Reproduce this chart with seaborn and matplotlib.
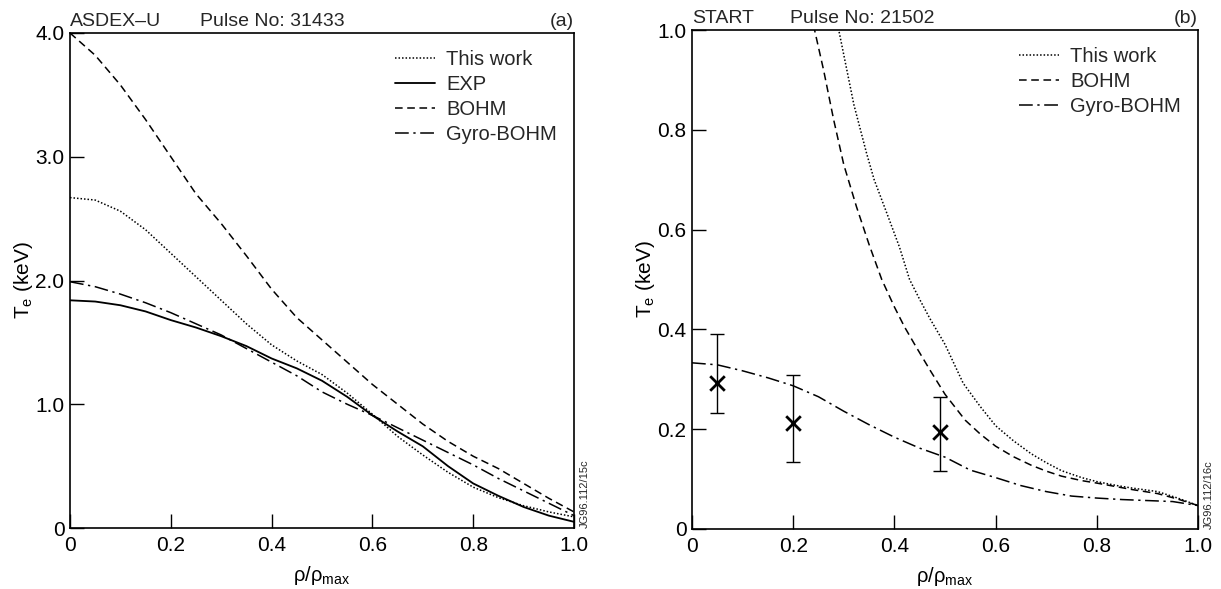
import matplotlib
matplotlib.use("Agg")
import matplotlib.pyplot as plt
import seaborn as sns
import numpy as np

# ---------------- Panel (a): ASDEX-U, pulse 31433 ----------------
rho_a = [0.0, 0.05, 0.10, 0.15, 0.20, 0.25, 0.30, 0.35, 0.40, 0.45, 0.50,
         0.55, 0.60, 0.65, 0.70, 0.75, 0.80, 0.85, 0.90, 0.95, 1.00]
te_a_this = [2.67, 2.65, 2.56, 2.41, 2.22, 2.03, 1.84, 1.65, 1.48, 1.35, 1.24,
             1.09, 0.92, 0.74, 0.59, 0.45, 0.33, 0.245, 0.18, 0.13, 0.09]
te_a_exp = [1.84, 1.83, 1.80, 1.75, 1.68, 1.62, 1.55, 1.47, 1.37, 1.29, 1.19,
            1.06, 0.91, 0.78, 0.66, 0.50, 0.36, 0.26, 0.17, 0.10, 0.05]
te_a_bohm = [4.00, 3.82, 3.58, 3.30, 3.00, 2.70, 2.46, 2.20, 1.93, 1.70, 1.52,
             1.34, 1.16, 1.00, 0.84, 0.70, 0.58, 0.48, 0.36, 0.24, 0.13]
te_a_gyro = [1.99, 1.95, 1.89, 1.82, 1.74, 1.65, 1.56, 1.45, 1.34, 1.23, 1.10,
             1.00, 0.91, 0.81, 0.71, 0.61, 0.51, 0.40, 0.30, 0.20, 0.10]

# ---------------- Panel (b): START, pulse 21502 ----------------
rho_b_this = [0.288, 0.30, 0.32, 0.345, 0.36, 0.385, 0.41, 0.43, 0.45, 0.47, 0.50,
              0.536, 0.57, 0.60, 0.635, 0.67, 0.70, 0.73, 0.77, 0.80, 0.84, 0.87,
              0.92, 0.96, 1.00]
te_b_this = [1.01, 0.95, 0.85, 0.753, 0.70, 0.633, 0.565, 0.50, 0.46, 0.422, 0.37,
             0.292, 0.245, 0.207, 0.177, 0.151, 0.133, 0.117, 0.103, 0.095, 0.087,
             0.082, 0.075, 0.062, 0.047]
rho_b_bohm = [0.24, 0.26, 0.28, 0.30, 0.325, 0.35, 0.375, 0.40, 0.42, 0.44, 0.47,
              0.50, 0.54, 0.57, 0.60, 0.635, 0.67, 0.70, 0.73, 0.77, 0.80, 0.87,
              0.92, 0.96, 1.00]
te_b_bohm = [1.01, 0.92, 0.82, 0.73, 0.646, 0.57, 0.50, 0.445, 0.405, 0.37, 0.319,
             0.27, 0.218, 0.19, 0.166, 0.145, 0.128, 0.116, 0.106, 0.097, 0.092,
             0.079, 0.071, 0.060, 0.047]
rho_b_gyro = [0.0, 0.05, 0.10, 0.15, 0.20, 0.25, 0.30, 0.35, 0.40, 0.45, 0.50,
              0.55, 0.60, 0.65, 0.70, 0.75, 0.80, 0.85, 0.90, 0.95, 1.00]
te_b_gyro = [0.333, 0.329, 0.317, 0.303, 0.287, 0.265, 0.236, 0.209, 0.184, 0.162,
             0.144, 0.118, 0.103, 0.087, 0.075, 0.066, 0.062, 0.059, 0.057, 0.055, 0.047]
# experimental points with error bars
rho_b_exp = [0.05, 0.20, 0.49]
te_b_exp = [0.292, 0.212, 0.195]
te_b_exp_low = [0.233, 0.135, 0.117]
te_b_exp_high = [0.391, 0.309, 0.265]

ticks_a_y = [0, 1.0, 2.0, 3.0, 4.0]
ticks_a_y_lbl = ["0", "1.0", "2.0", "3.0", "4.0"]
ticks_b_y = [0, 0.2, 0.4, 0.6, 0.8, 1.0]
ticks_b_y_lbl = ["0", "0.2", "0.4", "0.6", "0.8", "1.0"]
ticks_x = [0, 0.2, 0.4, 0.6, 0.8, 1.0]
ticks_x_lbl = ["0", "0.2", "0.4", "0.6", "0.8", "1.0"]

sns.set_theme(style="ticks")
plt.rcParams["font.family"] = ["Liberation Sans", "DejaVu Sans"]
plt.rcParams["mathtext.fontset"] = "custom"
plt.rcParams["mathtext.rm"] = "Liberation Sans"
plt.rcParams["mathtext.it"] = "Liberation Sans:italic"
plt.rcParams["mathtext.bf"] = "Liberation Sans:bold"

fig = plt.figure(figsize=(12.21, 5.89), dpi=100)
ax_a = fig.add_axes([70 / 1221, 61 / 589, 504 / 1221, 495 / 589])
ax_b = fig.add_axes([692 / 1221, 60 / 589, 506 / 1221, 499 / 589])

lw = 1.1
dotted = (0, (1, 1.3))
dashed = (0, (5, 3))
dashdot = (0, (9, 3, 1.5, 3))

# Panel a
sns.lineplot(x=rho_a, y=te_a_this, ax=ax_a, color="black", lw=lw, linestyle=dotted,
             label="This work", sort=False)
sns.lineplot(x=rho_a, y=te_a_exp, ax=ax_a, color="black", lw=lw * 1.2, linestyle="-",
             label="EXP", sort=False)
sns.lineplot(x=rho_a, y=te_a_bohm, ax=ax_a, color="black", lw=lw, linestyle=dashed,
             label="BOHM", sort=False)
sns.lineplot(x=rho_a, y=te_a_gyro, ax=ax_a, color="black", lw=lw, linestyle=dashdot,
             label="Gyro-BOHM", sort=False)

# Panel b
sns.lineplot(x=rho_b_this, y=te_b_this, ax=ax_b, color="black", lw=lw, linestyle=dotted,
             label="This work", sort=False)
sns.lineplot(x=rho_b_bohm, y=te_b_bohm, ax=ax_b, color="black", lw=lw, linestyle=dashed,
             label="BOHM", sort=False)
sns.lineplot(x=rho_b_gyro, y=te_b_gyro, ax=ax_b, color="black", lw=lw, linestyle=dashdot,
             label="Gyro-BOHM", sort=False)
yerr = [np.array(te_b_exp) - np.array(te_b_exp_low),
        np.array(te_b_exp_high) - np.array(te_b_exp)]
ax_b.errorbar(rho_b_exp, te_b_exp, yerr=yerr, fmt="none", ecolor="black",
              elinewidth=1.0, capsize=5, capthick=1.0)
sns.scatterplot(x=rho_b_exp, y=te_b_exp, ax=ax_b, marker="x", s=110, color="black",
                linewidth=2.0, legend=False, zorder=5)

for ax, yt, ytl, ymax in [(ax_a, ticks_a_y, ticks_a_y_lbl, 4.0),
                          (ax_b, ticks_b_y, ticks_b_y_lbl, 1.0)]:
    ax.set_xlim(0, 1.0)
    ax.set_ylim(0, ymax)
    ax.set_xticks(ticks_x)
    ax.set_xticklabels(ticks_x_lbl)
    ax.set_yticks(yt)
    ax.set_yticklabels(ytl)
    ax.tick_params(direction="in", length=10, width=1.0, labelsize=15, colors="black")
    ax.tick_params(axis="x", pad=6)
    ax.tick_params(axis="y", pad=4)
    for s in ax.spines.values():
        s.set_visible(True)
        s.set_color("black")
        s.set_linewidth(1.2)
    ax.set_xlabel("\u03c1/\u03c1$_{\\mathrm{max}}$", fontsize=14.5, labelpad=6)
    ax.set_ylabel("T$_{\\mathrm{e}}$ (keV)", fontsize=15, labelpad=0)
    ax.xaxis.label.set_color("black")
    ax.yaxis.label.set_color("black")
    leg = ax.legend(loc="upper right", bbox_to_anchor=(0.99, 0.99), frameon=False,
                    fontsize=14.5, handlelength=2.0, handletextpad=0.55,
                    labelspacing=0.3, borderaxespad=0.2)

# Header texts
ax_a.text(0.0, 1.006, "ASDEX\u2013U", transform=ax_a.transAxes, ha="left", va="bottom",
          fontsize=14)
ax_a.text(0.258, 1.006, "Pulse No: 31433", transform=ax_a.transAxes, ha="left",
          va="bottom", fontsize=14)
ax_a.text(1.0, 1.006, "(a)", transform=ax_a.transAxes, ha="right", va="bottom",
          fontsize=14)
ax_b.text(0.0, 1.006, "START", transform=ax_b.transAxes, ha="left", va="bottom",
          fontsize=14)
ax_b.text(0.194, 1.006, "Pulse No: 21502", transform=ax_b.transAxes, ha="left",
          va="bottom", fontsize=14)
ax_b.text(1.0, 1.006, "(b)", transform=ax_b.transAxes, ha="right", va="bottom",
          fontsize=14)

# plate codes
ax_a.text(1.012, 0.0, "JG96.112/15c", transform=ax_a.transAxes, rotation=90,
          ha="left", va="bottom", fontsize=8)
ax_b.text(1.012, 0.0, "JG96.112/16c", transform=ax_b.transAxes, rotation=90,
          ha="left", va="bottom", fontsize=8)

fig.savefig("out.png", dpi=100, facecolor="white")
